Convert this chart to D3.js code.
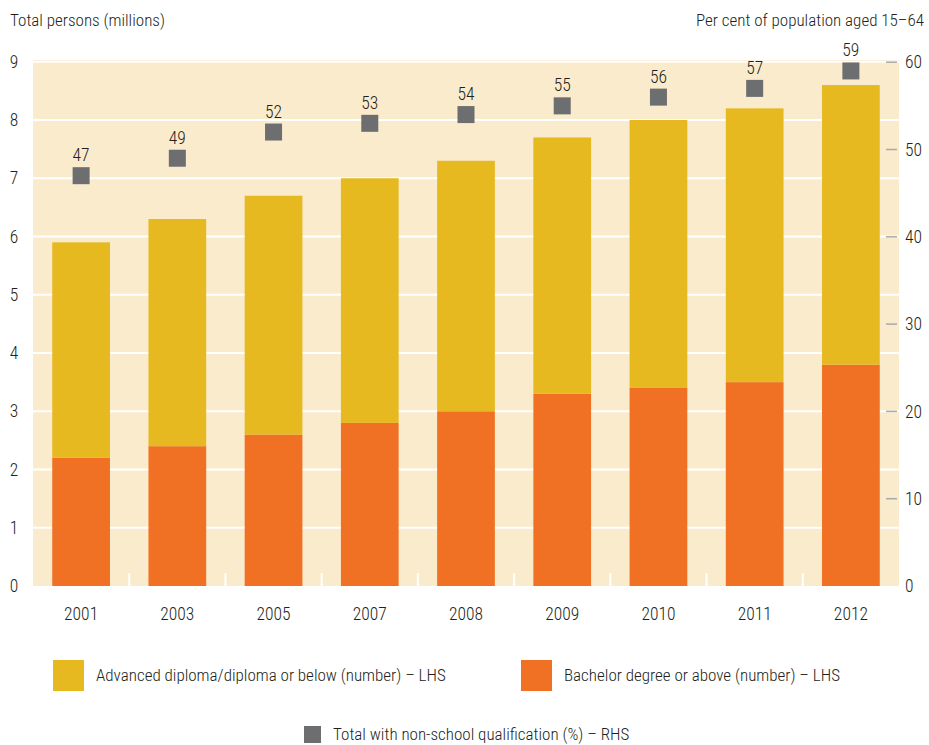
<!DOCTYPE html>
<html>
<head>
<meta charset="utf-8">
<script src="https://cdn.jsdelivr.net/npm/d3@7"></script>
<style>
  html, body { margin: 0; padding: 0; background: #fff; }
  text { font-family: "Roboto Condensed", "Liberation Sans Narrow", "Arial Narrow", sans-serif; font-weight: 300; fill: #231f20; }
</style>
</head>
<body>
<svg id="chart" width="929" height="745"></svg>
<script>
// Non-school qualifications, persons aged 15–64
const years = ["2001", "2003", "2005", "2007", "2008", "2009", "2010", "2011", "2012"];
const bachelorOrAbove = [2.2, 2.4, 2.6, 2.8, 3.0, 3.3, 3.4, 3.5, 3.8];          // millions
const diplomaOrBelow = [3.7, 3.9, 4.1, 4.2, 4.3, 4.4, 4.6, 4.7, 4.8];           // millions
const totalPercent = [47, 49, 52, 53, 54, 55, 56, 57, 59];                      // per cent
const leftTicks = [0, 1, 2, 3, 4, 5, 6, 7, 8, 9];
const rightTicks = [0, 10, 20, 30, 40, 50, 60];

const colors = {
  bg: "#faebcc",
  diploma: "#e6b921",
  bachelor: "#f07124",
  marker: "#6d6e70",
  rightTick: "#a7a9ac"
};

const svg = d3.select("#chart");
const plot = { left: 33, right: 899, top: 60, bottom: 586 };

const x = d3.scaleBand().domain(years).range([plot.left, plot.right]).paddingInner(0.4).paddingOuter(0.2);
const yL = d3.scaleLinear().domain([0, 9]).range([plot.bottom, plot.bottom - 9 * 58.25]);
const yR = d3.scaleLinear().domain([0, 60]).range([plot.bottom, plot.bottom - 60 * 8.73]);

// plot background
svg.append("rect")
  .attr("x", plot.left).attr("y", plot.top)
  .attr("width", plot.right - plot.left).attr("height", plot.bottom - plot.top)
  .attr("fill", colors.bg);

// horizontal gridlines
svg.append("g").selectAll("line").data(leftTicks.filter(d => d > 0)).join("line")
  .attr("x1", plot.left).attr("x2", plot.right)
  .attr("y1", d => yL(d)).attr("y2", d => yL(d))
  .attr("stroke", "#fff").attr("stroke-width", 2);

// category separators at the base
const step = x.step();
svg.append("g").selectAll("line").data(years.slice(1)).join("line")
  .attr("x1", d => x(d) - step * x.paddingInner() / 2)
  .attr("x2", d => x(d) - step * x.paddingInner() / 2)
  .attr("y1", plot.bottom - 13).attr("y2", plot.bottom)
  .attr("stroke", "#fff").attr("stroke-width", 2);

// right-axis tick marks
svg.append("g").selectAll("line").data(rightTicks.filter(d => d > 0)).join("line")
  .attr("x1", plot.right - 13).attr("x2", plot.right - 2)
  .attr("y1", d => yR(d)).attr("y2", d => yR(d))
  .attr("stroke", colors.rightTick).attr("stroke-width", 1.5);

// stacked bars
const stackData = years.map((y, i) => ({ year: y, bachelor: bachelorOrAbove[i], diploma: diplomaOrBelow[i] }));
const series = d3.stack().keys(["bachelor", "diploma"])(stackData);
svg.append("g").selectAll("g").data(series).join("g")
  .attr("fill", s => colors[s.key])
  .selectAll("rect").data(s => s).join("rect")
  .attr("x", d => x(d.data.year))
  .attr("width", x.bandwidth())
  .attr("y", d => yL(d[1]))
  .attr("height", d => yL(d[0]) - yL(d[1]));

// percentage markers with value labels
const mSize = 17;
svg.append("g").selectAll("rect").data(totalPercent).join("rect")
  .attr("x", (d, i) => x(years[i]) + x.bandwidth() / 2 - mSize / 2)
  .attr("y", d => yR(d) - mSize / 2)
  .attr("width", mSize).attr("height", mSize)
  .attr("fill", colors.marker);
svg.append("g").selectAll("text").data(totalPercent).join("text")
  .attr("x", (d, i) => x(years[i]) + x.bandwidth() / 2)
  .attr("y", d => yR(d) - mSize / 2 - 6)
  .attr("text-anchor", "middle")
  .attr("font-size", 17.5)
  .text(d => d);

// left axis
const leftAxis = svg.append("g").attr("transform", `translate(${plot.left},0)`)
  .call(d3.axisLeft(yL).tickValues(leftTicks).tickSize(0).tickPadding(0).tickFormat(d3.format("d")));
leftAxis.select(".domain").remove();
leftAxis.selectAll("text").attr("x", -19).attr("text-anchor", "middle").attr("font-size", 17.5).attr("fill", "#231f20");

// right axis
const rightAxis = svg.append("g").attr("transform", `translate(${plot.right},0)`)
  .call(d3.axisRight(yR).tickValues(rightTicks).tickSize(0).tickPadding(0).tickFormat(d3.format("d")));
rightAxis.select(".domain").remove();
rightAxis.selectAll("text").attr("x", 6).attr("text-anchor", "start").attr("font-size", 17.5).attr("fill", "#231f20");

// category axis
const bottomAxis = svg.append("g").attr("transform", `translate(0,${plot.bottom})`)
  .call(d3.axisBottom(x).tickSize(0).tickPadding(0));
bottomAxis.select(".domain").remove();
bottomAxis.selectAll("text").attr("y", 28).attr("dy", "0.35em").attr("font-size", 17.5).attr("fill", "#231f20");
svg.selectAll(".tick text").attr("font-family", null);

// axis titles
svg.append("text").attr("x", 10).attr("y", 26).attr("font-size", 17).text("Total persons (millions)");
svg.append("text").attr("x", 924).attr("y", 26).attr("text-anchor", "end").attr("font-size", 17)
  .text("Per cent of population aged 15–64");

// legend
const legend = svg.append("g");
const legendItems = [
  { label: "Advanced diploma/diploma or below (number) – LHS", color: colors.diploma, x: 53, y: 660, size: 31 },
  { label: "Bachelor degree or above (number) – LHS", color: colors.bachelor, x: 521, y: 660, size: 31 },
  { label: "Total with non-school qualification (%) – RHS", color: colors.marker, x: 304, y: 726, size: 17 }
];
legendItems.forEach(it => {
  legend.append("rect").attr("x", it.x).attr("y", it.y).attr("width", it.size).attr("height", it.size).attr("fill", it.color);
  legend.append("text").attr("x", it.x + it.size + 12)
    .attr("y", it.y + it.size / 2).attr("dy", "0.35em").attr("font-size", 17).text(it.label);
});
</script>
</body>
</html>
